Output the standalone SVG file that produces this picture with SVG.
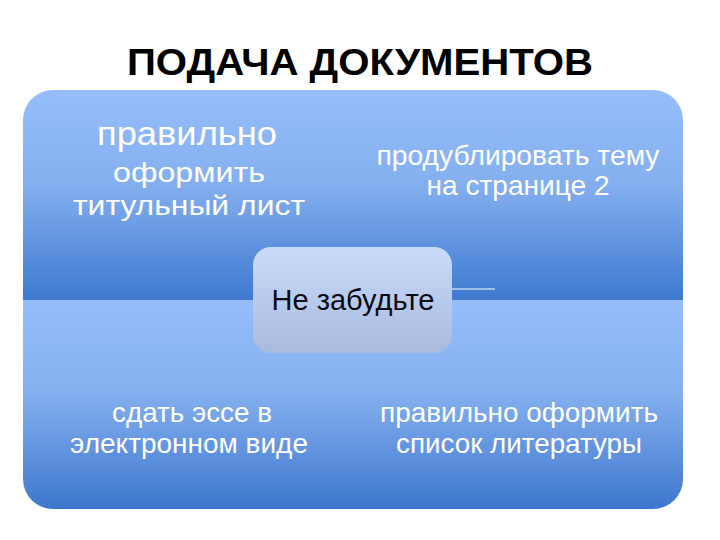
<svg xmlns="http://www.w3.org/2000/svg" width="720" height="540" viewBox="0 0 720 540">
<defs>
<linearGradient id="gTop" x1="0" y1="0" x2="0" y2="1">
<stop offset="0" stop-color="#96bdfa"/>
<stop offset="0.45" stop-color="#84afef"/>
<stop offset="1" stop-color="#3e79d0"/>
</linearGradient>
<linearGradient id="gBot" x1="0" y1="0" x2="0" y2="1">
<stop offset="0" stop-color="#96bdfa"/>
<stop offset="0.45" stop-color="#84afef"/>
<stop offset="1" stop-color="#3d77cd"/>
</linearGradient>
<linearGradient id="gCenter" x1="0" y1="0" x2="0" y2="1">
<stop offset="0" stop-color="#c8dbf9"/>
<stop offset="1" stop-color="#a8bbdf"/>
</linearGradient>
<style>
.q{font-family:"Liberation Sans",Arial,sans-serif;fill:#ffffff;text-anchor:middle;font-size:28px}
.big{font-size:33px}
.title{font-family:"Liberation Sans",Arial,sans-serif;font-weight:bold;font-size:36px;fill:#000;text-anchor:middle}
.c{font-family:"Liberation Sans",Arial,sans-serif;font-size:29px;fill:#0a0a14;text-anchor:middle}
</style>
</defs>
<rect width="720" height="540" fill="#ffffff"/>
<text class="title" x="360" y="75" textLength="466" lengthAdjust="spacingAndGlyphs">ПОДАЧА ДОКУМЕНТОВ</text>
<g id="top">
<path d="M23,120 A30,30 0 0 1 53,90 L653,90 A30,30 0 0 1 683,120 L683,300 L23,300 Z" fill="url(#gTop)"/>
<text class="q big" x="187" y="145" textLength="180" lengthAdjust="spacingAndGlyphs">правильно</text>
<text class="q" x="189" y="182" textLength="152" lengthAdjust="spacingAndGlyphs">оформить</text>
<text class="q" x="189" y="215" textLength="232" lengthAdjust="spacingAndGlyphs">титульный лист</text>
<text class="q" x="518" y="165" textLength="283" lengthAdjust="spacingAndGlyphs">продублировать тему</text>
<text class="q" x="518" y="195" textLength="183" lengthAdjust="spacingAndGlyphs">на странице 2</text>
</g>
<g id="bottom">
<path d="M23,300 L683,300 L683,479 A30,30 0 0 1 653,509 L53,509 A30,30 0 0 1 23,479 Z" fill="url(#gBot)"/>
<text class="q" x="192" y="422" textLength="160" lengthAdjust="spacingAndGlyphs">сдать эссе в</text>
<text class="q" x="189" y="453" textLength="238" lengthAdjust="spacingAndGlyphs">электронном виде</text>
<text class="q" x="519" y="422" textLength="278" lengthAdjust="spacingAndGlyphs">правильно оформить</text>
<text class="q" x="519" y="453" textLength="246" lengthAdjust="spacingAndGlyphs">список литературы</text>
</g>
<g id="connectors">
<line x1="452" y1="289" x2="495" y2="289" stroke="#ffffff" stroke-width="1.2"/>
</g>
<g id="center">
<rect x="253" y="247" width="199" height="106" rx="18" fill="url(#gCenter)"/>
<text class="c" x="353" y="310" textLength="163" lengthAdjust="spacingAndGlyphs">Не забудьте</text>
</g>
</svg>
